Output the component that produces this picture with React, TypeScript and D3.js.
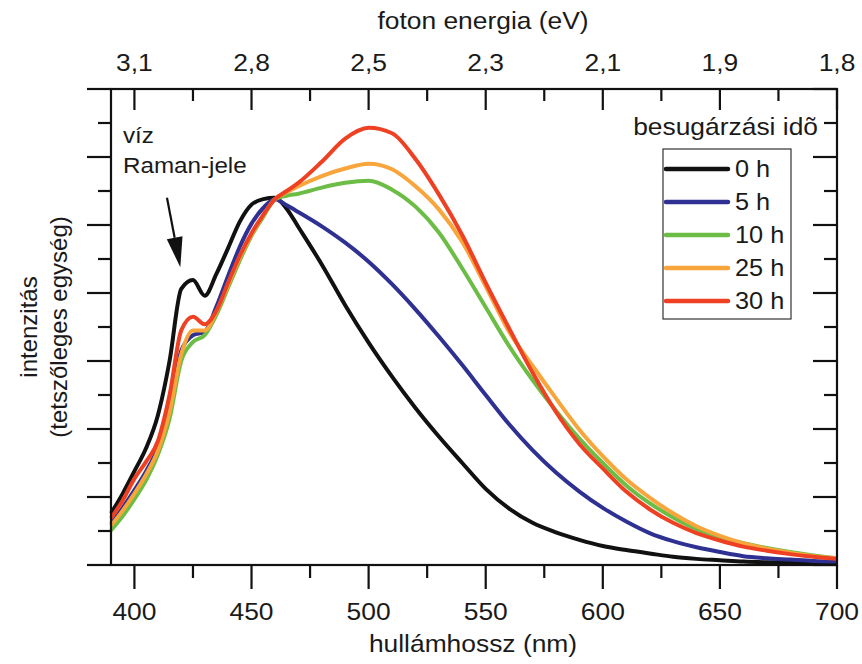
import React from 'react';
import {scaleLinear,line,curveMonotoneX} from 'd3';

// wavelengths (nm) of the sampled points
const lam=[390,395,400,405,410,415,420,425,430,435,440,445,450,455,460,465,470,
  480,490,500,510,520,530,540,550,560,570,580,590,600,610,620,630,640,650,660,670,680,690,700];

const h0=[0.76,1.05,1.38,1.72,2.2,3.0,4.06,4.19,3.96,4.28,4.66,5.05,5.30,5.38,5.40,5.24,4.97,
  4.42,3.82,3.27,2.77,2.31,1.89,1.50,1.12,0.83,0.62,0.48,0.37,0.28,0.22,0.17,0.12,0.09,0.07,0.05,0.04,0.035,0.03,0.025];
const h5=[0.60,0.84,1.10,1.38,1.72,2.30,3.15,3.38,3.43,3.80,4.25,4.68,5.02,5.25,5.38,5.29,5.19,
  4.98,4.74,4.46,4.13,3.76,3.36,2.94,2.50,2.07,1.69,1.36,1.08,0.84,0.64,0.47,0.35,0.26,0.19,0.13,0.10,0.08,0.06,0.05];
const h10=[0.51,0.72,0.97,1.25,1.62,2.15,3.0,3.28,3.38,3.68,4.08,4.48,4.84,5.12,5.38,5.43,5.46,
  5.55,5.62,5.65,5.52,5.27,4.89,4.36,3.79,3.22,2.72,2.27,1.86,1.50,1.17,0.91,0.70,0.53,0.41,0.32,0.25,0.19,0.14,0.10];
const h25=[0.58,0.80,1.05,1.33,1.68,2.25,3.1,3.45,3.45,3.72,4.12,4.52,4.86,5.14,5.38,5.48,5.57,
  5.72,5.83,5.90,5.82,5.57,5.23,4.75,4.10,3.43,2.93,2.45,1.99,1.60,1.26,0.99,0.76,0.57,0.43,0.32,0.24,0.18,0.13,0.10];
const h30=[0.69,0.95,1.27,1.52,1.82,2.50,3.45,3.65,3.54,3.74,4.15,4.55,4.88,5.15,5.38,5.50,5.62,
  5.93,6.27,6.43,6.35,5.97,5.45,4.85,4.15,3.48,2.83,2.25,1.78,1.42,1.08,0.82,0.62,0.47,0.36,0.27,0.21,0.16,0.12,0.09];

const seriesNames=["0 h","5 h","10 h","25 h","30 h"];
const seriesColors=["#111111","#2e3192","#6cbd45","#f8a53c","#ee4124"];
const seriesValues=[h0,h5,h10,h25,h30];

const xMajor=[400,450,500,550,600,650,700];
const xMinor=[425,475,525,575,625,675];
const energyLabels=["3,1","2,8","2,5","2,3","2,1","1,9","1,8"];
const yMajor=[0,1,2,3,4,5,6,7];
const yMinor=[0.5,1.5,2.5,3.5,4.5,5.5,6.5];

// arrow for the water Raman peak, in data units
const arrowFrom=[413.9,5.40];
const arrowTo=[419.6,4.38];

const W=862,H=664;
const L=111,R=837,T=89,B=565;
const font='"Liberation Sans", Arial, sans-serif';
const SX=1.1; // the picture is a bit stretched sideways

const HText=({x,y,size=24,anchor='start',children}:{x:number,y:number,size?:number,anchor?:string,children:any})=>
  <text transform={`translate(${x},${y}) scale(${SX},1)`} textAnchor={anchor} fontSize={size} fill="#1a1a1a">{children}</text>;

export default function App(){
  const x=scaleLinear().domain([390,700]).range([L,R]);
  const y=scaleLinear().domain([0,7]).range([B,T]);
  const path=line<number>().x((d,i)=>x(lam[i])).y(d=>y(d)).curve(curveMonotoneX);

  // arrow geometry
  const x1=x(arrowFrom[0]),y1=y(arrowFrom[1]),x2=x(arrowTo[0]),y2=y(arrowTo[1]);
  const len=Math.hypot(x2-x1,y2-y1);
  const ux=(x2-x1)/len,uy=(y2-y1)/len;
  const hl=30,hw=8;
  const bx=x2-ux*hl,by=y2-uy*hl;
  const head=`M${x2},${y2}L${bx+uy*hw},${by-ux*hw}L${bx-uy*hw},${by+ux*hw}Z`;

  const legX=663,legY=149,legW=128,legH=170,rowH=33;

  return (
    <svg width={W} height={H} style={{position:'absolute',left:0,top:0,background:'#fff'}} fontFamily={font}>
      {/* curves */}
      {seriesValues.map((v,i)=>
        <path key={i} d={path(v)||''} fill="none" stroke={seriesColors[i]} strokeWidth={4} strokeLinejoin="round"/>
      )}

      {/* frame */}
      <rect x={L} y={T} width={R-L} height={B-T} fill="none" stroke="#111" strokeWidth={2.2}/>

      {/* bottom ticks (outward) */}
      {xMajor.map(t=><line key={'bm'+t} x1={x(t)} x2={x(t)} y1={B} y2={B+24} stroke="#111" strokeWidth={2.2}/>)}
      {xMinor.map(t=><line key={'bn'+t} x1={x(t)} x2={x(t)} y1={B} y2={B+13} stroke="#111" strokeWidth={2.2}/>)}
      {xMajor.map(t=><HText key={'bl'+t} x={x(t)} y={620} anchor="middle">{t}</HText>)}
      <HText x={473} y={652} anchor="middle">hullámhossz (nm)</HText>

      {/* top ticks (inward) */}
      {xMajor.map(t=><line key={'tm'+t} x1={x(t)} x2={x(t)} y1={T} y2={T+21} stroke="#111" strokeWidth={2.2}/>)}
      {xMinor.map(t=><line key={'tn'+t} x1={x(t)} x2={x(t)} y1={T} y2={T+12} stroke="#111" strokeWidth={2.2}/>)}
      {xMajor.map((t,i)=><HText key={'tl'+t} x={x(t)} y={71} anchor="middle">{energyLabels[i]}</HText>)}
      <HText x={483} y={29} anchor="middle">foton energia (eV)</HText>

      {/* left ticks (outward) and right ticks (inward) */}
      {yMajor.map(t=><line key={'lm'+t} x1={L-24} x2={L} y1={y(t)} y2={y(t)} stroke="#111" strokeWidth={2.2}/>)}
      {yMinor.map(t=><line key={'ln'+t} x1={L-13} x2={L} y1={y(t)} y2={y(t)} stroke="#111" strokeWidth={2.2}/>)}
      {yMajor.map(t=><line key={'rm'+t} x1={R-24} x2={R} y1={y(t)} y2={y(t)} stroke="#111" strokeWidth={2.2}/>)}
      {yMinor.map(t=><line key={'rn'+t} x1={R-13} x2={R} y1={y(t)} y2={y(t)} stroke="#111" strokeWidth={2.2}/>)}

      {/* y title */}
      <g transform={`translate(37,${(T+B)/2}) rotate(-90)`}>
        <text x={0} y={0} textAnchor="middle" fontSize={24} fill="#1a1a1a">intenzitás</text>
        <text x={0} y={30} textAnchor="middle" fontSize={24} fill="#1a1a1a">(tetszőleges egység)</text>
      </g>

      {/* annotation */}
      <HText x={123} y={143} size={22}>víz</HText>
      <HText x={123} y={173} size={22}>Raman-jele</HText>
      <line x1={x1} y1={y1} x2={bx} y2={by} stroke="#111" strokeWidth={2.2}/>
      <path d={head} fill="#111"/>

      {/* legend */}
      <HText x={818} y={135} anchor="end">besugárzási idõ</HText>
      <rect x={legX} y={legY} width={legW} height={legH} fill="#fff" stroke="#333" strokeWidth={1.2}/>
      {seriesNames.map((n,i)=>{
        const ry=legY+20+i*rowH;
        return <g key={n}>
          <line x1={legX+3} x2={legX+65} y1={ry} y2={ry} stroke={seriesColors[i]} strokeWidth={4.5} strokeLinecap="round"/>
          <HText x={legX+72} y={ry+8} size={23}>{n}</HText>
        </g>;
      })}
    </svg>
  );
}
